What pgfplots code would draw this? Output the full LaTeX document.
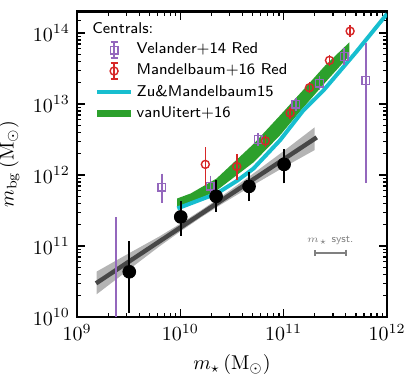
\documentclass[border=0pt]{standalone}
\usepackage{pgfplots}
\usepackage{pgfplotstable}
\pgfplotsset{compat=1.18}
\usetikzlibrary{calc}
\definecolor{vpurple}{HTML}{9467BD}
\definecolor{mred}{HTML}{D62728}
\definecolor{zcyan}{HTML}{17BECF}
\definecolor{vgreen}{HTML}{2CA02C}
\definecolor{bandgrey}{HTML}{B4B4B4}
\definecolor{linegrey}{HTML}{474747}

% all values are log10(M/Msun); errors are log10 offsets
\pgfplotstableread{
x      y      ep     em
9.506  10.637 0.373  0.527
10.004 11.41  0.165  0.21
10.346 11.70  0.17   0.16
10.665 11.84  0.15   0.15
11.004 12.15  0.16   0.21
}\blackpts

\pgfplotstableread{
x      y      ep     em
9.378  9.70   1.655  0.5
9.820  11.83  0.14   0.17
10.290 11.84  0.10   0.10
10.752 12.50  0.04   0.04
11.117 12.996 0.04   0.04
11.346 13.295 0.05   0.05
11.585 13.67  0.07   0.07
11.795 13.333 0.477  1.396
}\velander

\pgfplotstableread{
x      y      ep     em
10.242 12.15  0.19   0.25
10.546 12.12  0.12   0.14
10.823 12.48  0.03   0.03
11.062 12.873 0.03   0.03
11.249 13.23  0.03   0.03
11.443 13.615 0.03   0.03
11.643 14.027 0.03   0.03
}\mandel

\pgfplotstableread{
x      y
9.971  11.529
10.10  11.60
10.352 11.74
10.55  11.92
10.707 12.09
10.965 12.49
11.19  12.91
11.384 13.19
11.70  13.73
12.0   14.27
}\zumandel

\begin{document}
\begin{tikzpicture}
\begin{axis}[
  name=ax,
  scale only axis,
  width=155pt, height=152.65pt,
  xmin=9, xmax=12, ymin=10, ymax=14.301,
  xtick={9,10,11,12},
  xticklabels={$10^{9}$,$10^{10}$,$10^{11}$,$10^{12}$},
  ytick={10,11,12,13,14},
  yticklabels={$10^{10}$,$10^{11}$,$10^{12}$,$10^{13}$,$10^{14}$},
  minor xtick={9.301,9.477,9.602,9.699,9.778,9.845,9.903,9.954,
               10.301,10.477,10.602,10.699,10.778,10.845,10.903,10.954,
               11.301,11.477,11.602,11.699,11.778,11.845,11.903,11.954},
  minor ytick={10.301,10.477,10.602,10.699,10.778,10.845,10.903,10.954,
               11.301,11.477,11.602,11.699,11.778,11.845,11.903,11.954,
               12.301,12.477,12.602,12.699,12.778,12.845,12.903,12.954,
               13.301,13.477,13.602,13.699,13.778,13.845,13.903,13.954,
               14.0,14.176},
  tick align=inside,
  major tick length=4pt, minor tick length=2pt,
  every tick/.style={black, line width=0.6pt},
  axis line style={line width=1.2pt},
  xlabel={$m_\star\,(\mathrm{M}_\odot)$},
  ylabel={$m_{\mathrm{bg}}\,(\mathrm{M}_\odot)$},
  legend style={draw=none, fill=none, inner sep=0pt,
    font=\sffamily\fontsize{7.8}{9}\selectfont,
    at={(rel axis cs:0.052,0.905)}, anchor=north west,
    row sep=1.6pt,
    nodes={inner sep=1pt},
    /tikz/every even column/.append style={column sep=4pt}},
  legend cell align=left,
]
% grey band and black fit line
\addplot[draw=none, fill=bandgrey, forget plot] coordinates {
  (9.19,10.64) (9.5,10.895) (9.8,11.137) (10.0,11.315) (10.2,11.503)
  (10.4,11.70) (10.7,12.014) (11.0,12.338) (11.3,12.672)
  (11.3,12.352) (11.0,12.108) (10.7,11.854) (10.4,11.59) (10.2,11.403)
  (10.0,11.205) (9.8,10.997) (9.5,10.665) (9.19,10.32)} -- cycle;
\addplot[linegrey, line width=2.2pt, forget plot] coordinates {(9.184,10.474) (11.32,12.53)};
% vanUitert+16 band
\addplot[draw=none, fill=vgreen, forget plot] coordinates {
  (9.97,11.67) (10.10,11.74) (10.35,11.95) (10.71,12.44) (10.965,12.84)
  (11.19,13.20) (11.40,13.54) (11.636,13.87)
  (11.636,13.68) (11.40,13.30) (11.19,12.95) (10.965,12.56) (10.71,12.18)
  (10.35,11.78) (10.10,11.60) (9.97,11.54)} -- cycle;
% Zu & Mandelbaum 15
\addplot[zcyan, line width=2pt, forget plot] table[x=x,y=y]{\zumandel};
% Velander+14
\addplot[only marks, mark=square, mark size=1.9pt, vpurple, line width=0.7pt, forget plot,
  error bars/.cd, y dir=both, y explicit,
  error bar style={line width=0.8pt},
  error mark options={mark size=1.8pt, line width=0.8pt}]
  table[x=x,y=y,y error plus=ep,y error minus=em]{\velander};
% Mandelbaum+16
\addplot[only marks, mark=o, mark size=2pt, mred, line width=0.7pt, forget plot,
  error bars/.cd, y dir=both, y explicit,
  error bar style={line width=0.8pt},
  error mark options={mark size=1.8pt, line width=0.8pt}]
  table[x=x,y=y,y error plus=ep,y error minus=em]{\mandel};
% black points
\addplot[only marks, mark=*, mark size=3.2pt, black, forget plot,
  error bars/.cd, y dir=both, y explicit,
  error bar style={line width=1pt},
  error mark options={mark size=2pt, line width=1pt}]
  table[x=x,y=y,y error plus=ep,y error minus=em]{\blackpts};
% m_star systematic
\addplot[gray, line width=1.2pt, mark=none, forget plot,
  error bars/.cd, x dir=both, x fixed=0.15, error mark=|,
  error bar style={line width=1.2pt},
  error mark options={mark size=1.6pt, line width=1pt}]
  coordinates {(11.45,10.905)};
\node[gray, font=\sffamily\fontsize{5.5}{6}\selectfont] at (axis cs:11.45,11.08) {$m_\star$ syst.};
\node[anchor=base west, font=\sffamily\fontsize{7.8}{9}\selectfont, inner sep=0pt]
  at (rel axis cs:0.048,0.930) {Centrals:};
% legend
\addlegendimage{vpurple, line width=0.7pt, legend image code/.code={
  \draw (0.3cm,-0.14cm) -- (0.3cm,0.14cm)
        (0.24cm,-0.14cm) -- (0.36cm,-0.14cm)
        (0.24cm,0.14cm) -- (0.36cm,0.14cm);
  \draw (0.3cm,0cm) +(-1.9pt,-1.9pt) rectangle +(1.9pt,1.9pt);}}
\addlegendentry{Velander+14 Red}
\addlegendimage{mred, line width=0.7pt, legend image code/.code={
  \draw (0.3cm,-0.14cm) -- (0.3cm,0.14cm)
        (0.24cm,-0.14cm) -- (0.36cm,-0.14cm)
        (0.24cm,0.14cm) -- (0.36cm,0.14cm);
  \draw (0.3cm,0cm) circle (2pt);}}
\addlegendentry{Mandelbaum+16 Red}
\addlegendimage{zcyan, line width=2pt}
\addlegendentry{Zu\&Mandelbaum15}
\addlegendimage{vgreen, line width=3.5pt}
\addlegendentry{vanUitert+16}
\end{axis}
\pgfresetboundingbox
\path (ax.south west) ++(-38.5pt,-30.5pt) rectangle ($(ax.north east)+(14pt,5.85pt)$);
\end{tikzpicture}
\end{document}
